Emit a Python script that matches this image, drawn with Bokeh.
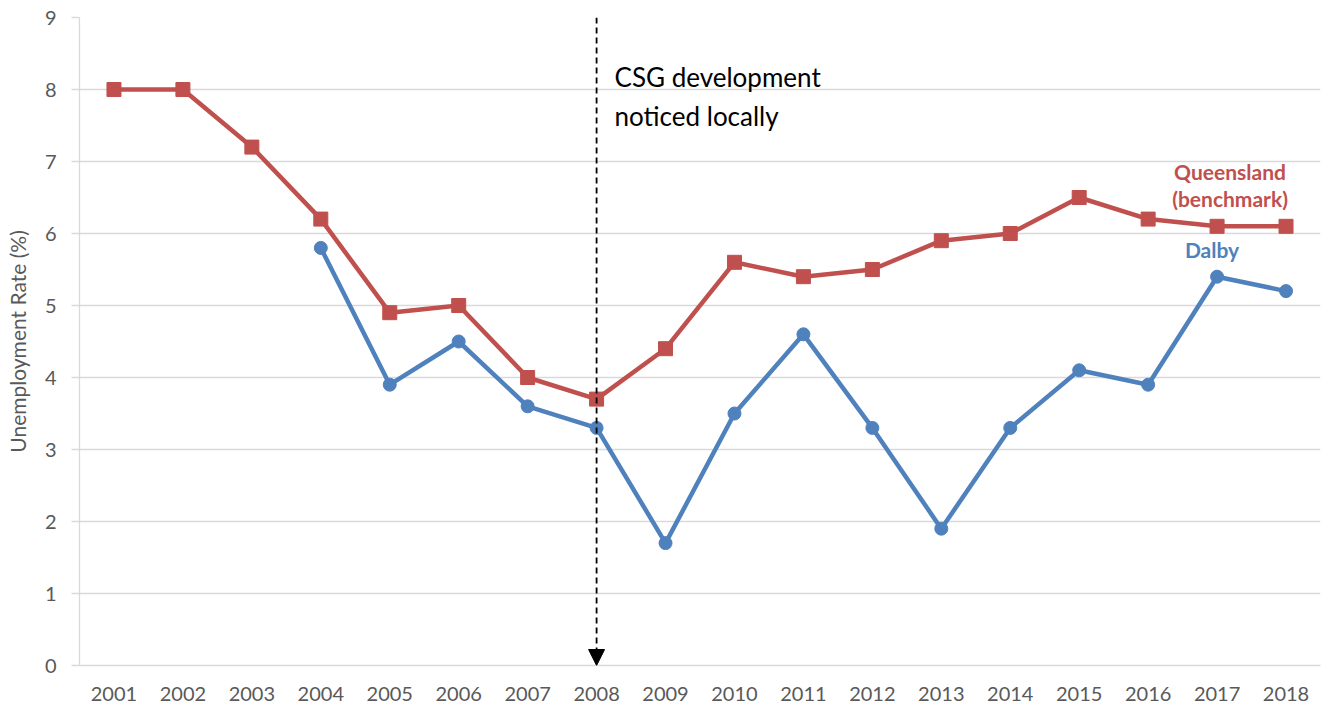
from bokeh.plotting import figure
from bokeh.models import Range1d, FixedTicker, Arrow, NormalHead, Label, ColumnDataSource
from bokeh.embed import file_html
from bokeh.resources import INLINE

years = list(range(2001, 2019))
queensland = [8.0, 8.0, 7.2, 6.2, 4.9, 5.0, 4.0, 3.7, 4.4, 5.6, 5.4, 5.5, 5.9, 6.0, 6.5, 6.2, 6.1, 6.1]
dalby_years = list(range(2004, 2019))
dalby = [5.8, 3.9, 4.5, 3.6, 3.3, 1.7, 3.5, 4.6, 3.3, 1.9, 3.3, 4.1, 3.9, 5.4, 5.2]
event_year = 2008
y_ticks = list(range(0, 10))

RED = "#C0504D"
BLUE = "#4F81BD"
GRID = "#D9D9D9"
TXT = "#595959"
FONT = "Lato"

p = figure(width=1322, height=705, output_backend="svg", toolbar_location=None,
           x_range=Range1d(2000.5, 2018.5), y_range=Range1d(0, 9),
           min_border_left=79, min_border_top=17, min_border_right=2, min_border_bottom=40)
p.outline_line_color = None
p.xgrid.visible = False
p.ygrid.grid_line_color = GRID
p.ygrid.grid_line_width = 1.3
p.ygrid.ticker = FixedTicker(ticks=y_ticks)

p.xaxis.ticker = FixedTicker(ticks=years)
p.xaxis.major_tick_line_color = None
p.xaxis.minor_tick_line_color = None
p.xaxis.axis_line_color = GRID
p.xaxis.axis_line_width = 1.3
p.xaxis.major_label_text_font = FONT
p.xaxis.major_label_text_font_size = "20px"
p.xaxis.major_label_text_color = TXT
p.xaxis.major_label_standoff = 15

p.yaxis.ticker = FixedTicker(ticks=y_ticks)
p.yaxis.major_tick_line_color = GRID
p.yaxis.major_tick_line_width = 1.3
p.yaxis.major_tick_out = 8
p.yaxis.major_tick_in = 0
p.yaxis.minor_tick_line_color = None
p.yaxis.axis_line_color = GRID
p.yaxis.axis_line_width = 1.3
p.yaxis.major_label_text_font = FONT
p.yaxis.major_label_text_font_size = "20px"
p.yaxis.major_label_text_color = TXT
p.yaxis.major_label_standoff = 15
p.yaxis.axis_label = "Unemployment Rate (%)"
p.yaxis.axis_label_text_font = FONT
p.yaxis.axis_label_text_font_size = "21px"
p.yaxis.axis_label_text_font_style = "normal"
p.yaxis.axis_label_text_color = TXT
p.yaxis.axis_label_standoff = 12

q_src = ColumnDataSource(dict(x=years, y=queensland))
d_src = ColumnDataSource(dict(x=dalby_years, y=dalby))

p.line("x", "y", source=q_src, line_color=RED, line_width=4.5)
p.scatter("x", "y", source=q_src, marker="square", size=14, fill_color=RED, line_color=RED)
p.line("x", "y", source=d_src, line_color=BLUE, line_width=4.5)
p.scatter("x", "y", source=d_src, marker="circle", size=13, fill_color=BLUE, line_color=BLUE)

p.add_layout(Arrow(end=NormalHead(size=16, fill_color="black", line_color="black"),
                   x_start=event_year, y_start=9, x_end=event_year, y_end=0,
                   line_color="black", line_width=1.8, line_dash="6 4"))

p.add_layout(Label(x=event_year, y=8.17, x_offset=18, text="CSG development",
                   text_font=FONT, text_font_size="26px", text_color="black",
                   text_baseline="middle"))
p.add_layout(Label(x=event_year, y=7.63, x_offset=18, text="noticed locally",
                   text_font=FONT, text_font_size="26px", text_color="black",
                   text_baseline="middle"))

p.add_layout(Label(x=years[-1], y=queensland[-1], x_offset=-56, y_offset=55, text="Queensland",
                   text_font=FONT, text_font_size="21px", text_font_style="bold",
                   text_color=RED, text_align="center", text_baseline="middle"))
p.add_layout(Label(x=years[-1], y=queensland[-1], x_offset=-56, y_offset=28, text="(benchmark)",
                   text_font=FONT, text_font_size="21px", text_font_style="bold",
                   text_color=RED, text_align="center", text_baseline="middle"))
p.add_layout(Label(x=years[-1], y=queensland[-1], x_offset=-74, y_offset=-23, text="Dalby",
                   text_font=FONT, text_font_size="21px", text_font_style="bold",
                   text_color=BLUE, text_align="center", text_baseline="middle"))

open("out.html", "w").write(file_html(p, INLINE))
